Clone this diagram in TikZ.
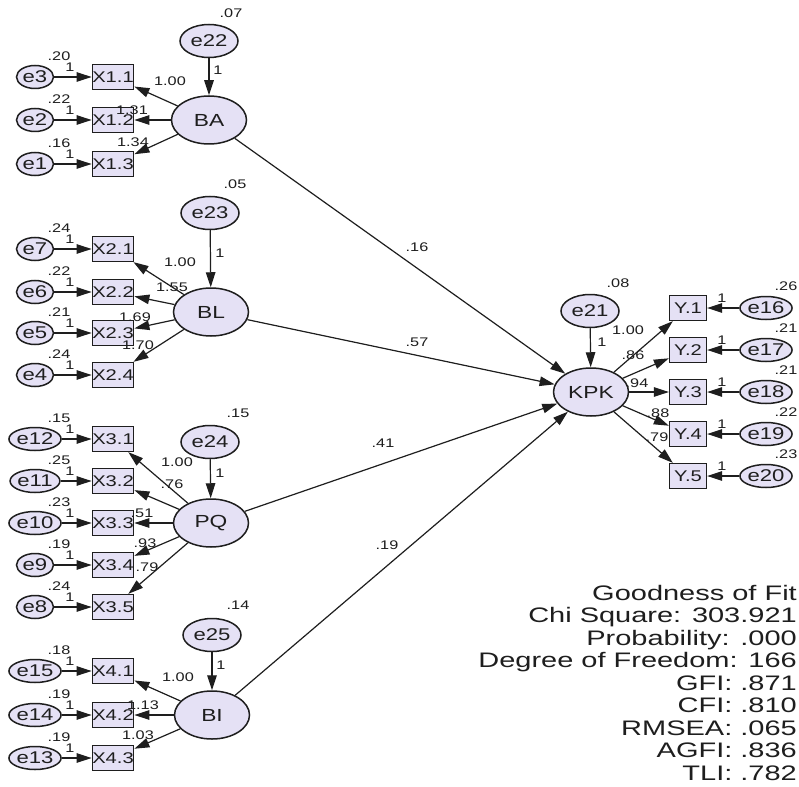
\documentclass[tikz,border=0pt]{standalone}
\usepackage{fontspec}
\setmainfont{Liberation Sans}[FakeStretch=1.3]
\newfontfamily\goffont{Liberation Sans}[FakeStretch=1.38]
\usetikzlibrary{arrows.meta,shapes.geometric}
\definecolor{lav}{RGB}{229,225,245}
\definecolor{ink}{RGB}{30,30,30}
\tikzset{
 lat/.style={ellipse, draw=ink, line width=1.5pt, fill=lav, minimum width=75pt, minimum height=48pt, inner sep=0pt, text=ink, font=\fontsize{17.5}{17.5}\selectfont},
 errbig/.style={ellipse, draw=ink, line width=1.5pt, fill=lav, minimum width=58pt, minimum height=33pt, inner sep=0pt, text=ink, font=\fontsize{17}{17}\selectfont},
 errsm/.style={ellipse, draw=ink, line width=1.5pt, fill=lav, minimum width=37pt, minimum height=23pt, inner sep=0pt, text=ink, font=\fontsize{17}{17}\selectfont},
 obs/.style={rectangle, draw=ink, line width=1.3pt, fill=lav, minimum width=37pt, minimum height=25pt, inner sep=0pt, text=ink, font=\fontsize{15.5}{15.5}\selectfont},
 lbl/.style={inner sep=0pt, text=ink, font=\fontsize{12.5}{12.5}\selectfont},
 arr/.style={draw=ink, line width=1.2pt, -{Triangle[length=15pt,width=9.5pt]}},
}
\begin{document}
\begin{tikzpicture}[x=1pt,y=-1pt]
\fill[white] (0,0) rectangle (799,786);
\useasboundingbox (0,0) rectangle (799,786);

% left indicators
\foreach \n/\lab/\yy/\v in {3/X1.1/77/.20, 2/X1.2/120/.22, 1/X1.3/164/.16,
  7/X2.1/249/.24, 6/X2.2/292/.22, 5/X2.3/333/.21, 4/X2.4/375/.24,
  12/X3.1/439/.15, 11/X3.2/481/.25, 10/X3.3/523/.23, 9/X3.4/565/.19, 8/X3.5/607/.24,
  15/X4.1/671/.18, 14/X4.2/715/.19, 13/X4.3/758/.19} {
  \node[errsm] (e\n) at (35,\yy) {e\n};
  \node[obs] (x\n) at (113,\yy) {\lab};
  \draw[arr] (e\n) -- (x\n);
  \node[lbl] (ev\n) at (59,\yy-21) {\v};
  \node[lbl] (eo\n) at (70,\yy-10) {1};
}

% latent variables
\node[lat] (BA) at (209,120) {BA};
\node[lat] (BL) at (211,312) {BL};
\node[lat] (PQ) at (211,523) {PQ};
\node[lat] (BI) at (212,715) {BI};
\node[lat] (KPK) at (591,392) {KPK};

\node[errbig] (e22) at (209,41) {e22};
\node[errbig] (e23) at (210,213) {e23};
\node[errbig] (e24) at (210,442) {e24};
\node[errbig] (e25) at (212,635) {e25};
\node[errbig] (e21) at (590,311) {e21};

\draw[arr] (e22) -- (BA);
\draw[arr] (e23) -- (BL);
\draw[arr] (e24) -- (PQ);
\draw[arr] (e25) -- (BI);
\draw[arr] (e21) -- (KPK);

\node[lbl] (v22) at (231,13) {.07};
\node[lbl] (o22) at (218,70) {1};
\node[lbl] (v23) at (235,184) {.05};
\node[lbl] (o23) at (220,253) {1};
\node[lbl] (v24) at (238,413) {.15};
\node[lbl] (o24) at (220,473) {1};
\node[lbl] (v25) at (238,605) {.14};
\node[lbl] (o25) at (221,665) {1};
\node[lbl] (v21) at (618,283) {.08};
\node[lbl] (o21) at (602,342) {1};

% loadings
\draw[arr] (BA) -- (x3);
\draw[arr] (BA) -- (x2);
\draw[arr] (BA) -- (x1);
\node[lbl] (l3) at (170,81) {1.00};
\node[lbl] (l2) at (132,110) {1.31};
\node[lbl] (l1) at (133,142) {1.34};

\draw[arr] (BL) -- (x7);
\draw[arr] (BL) -- (x6);
\draw[arr] (BL) -- (x5);
\draw[arr] (BL) -- (x4);
\node[lbl] (l7) at (180,262) {1.00};
\node[lbl] (l6) at (172,287) {1.55};
\node[lbl] (l5) at (135,317) {1.69};
\node[lbl] (l4) at (138,345) {1.70};

\draw[arr] (PQ) -- (x12);
\draw[arr] (PQ) -- (x11);
\draw[arr] (PQ) -- (x10);
\draw[arr] (PQ) -- (x9);
\draw[arr] (PQ) -- (x8);
\node[lbl] (l12) at (177,462) {1.00};
\node[lbl] (l11) at (172,484) {.76};
\node[lbl] (l10) at (142,513) {.51};
\node[lbl] (l9) at (145,543) {.93};
\node[lbl] (l8) at (147,567) {.79};

\draw[arr] (BI) -- (x15);
\draw[arr] (BI) -- (x14);
\draw[arr] (BI) -- (x13);
\node[lbl] (l15) at (178,677) {1.00};
\node[lbl] (l14) at (143,705) {1.13};
\node[lbl] (l13) at (138,735) {1.03};

% structural paths
\draw[arr] (BA) -- (KPK);
\draw[arr] (BL) -- (KPK);
\draw[arr] (PQ) -- (KPK);
\draw[arr] (BI) -- (KPK);
\node[lbl] (s1) at (417,247) {.16};
\node[lbl] (s2) at (417,342) {.57};
\node[lbl] (s3) at (383,443) {.41};
\node[lbl] (s4) at (387,545) {.19};

% right indicators
\foreach \n/\lab/\yy/\v in {16/Y.1/308/.26, 17/Y.2/350/.21, 18/Y.3/392/.21, 19/Y.4/434/.22, 20/Y.5/476/.23} {
  \node[obs] (y\n) at (688,\yy) {\lab};
  \node[errsm] (e\n) at (766,\yy) {e\n};
  \draw[arr] (e\n) -- (y\n);
  \draw[arr] (KPK) -- (y\n);
  \node[lbl] (ev\n) at (786,\yy-22) {\v};
  \node[lbl] (eo\n) at (722,\yy-10) {1};
}
\node[lbl] (k16) at (628,330) {1.00};
\node[lbl] (k17) at (633,355) {.86};
\node[lbl] (k18) at (637,383) {.94};
\node[lbl] (k19) at (658,413) {.88};
\node[lbl] (k20) at (657,437) {.79};

% goodness of fit
\node[anchor=north east, align=right, inner sep=0pt, text=ink, font=\goffont\fontsize{21}{22.5}\selectfont] (gof) at (797,585)
 {Goodness of Fit\\Chi Square: 303.921\\Probability: .000\\Degree of Freedom: 166\\GFI: .871\\CFI: .810\\RMSEA: .065\\AGFI: .836\\TLI: .782};
\end{tikzpicture}
\end{document}
